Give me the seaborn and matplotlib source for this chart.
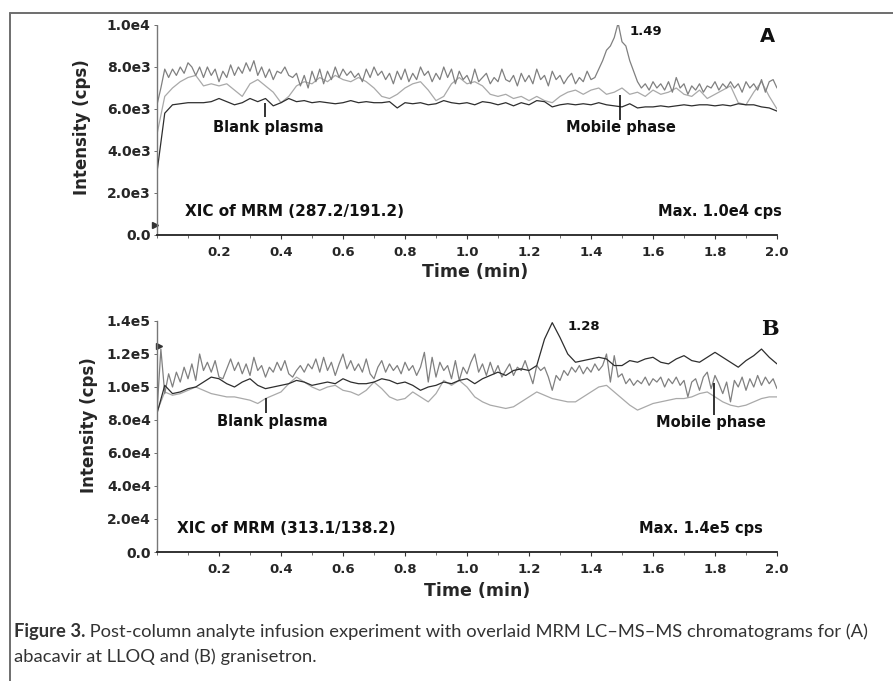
import numpy as np
import pandas as pd
import matplotlib
matplotlib.use('Agg')
import matplotlib.pyplot as plt
import seaborn as sns
from matplotlib.lines import Line2D
from matplotlib.ticker import FixedLocator, MultipleLocator

# ---- panel A (abacavir), intensity in units of 1e3 cps ----
a_noisy = [6.2, 7.0, 7.9, 7.5, 7.9, 7.6, 8.0, 7.7, 8.2, 8.0, 7.6, 8.0, 7.5, 8.0, 7.6, 7.9,
           7.3, 7.8, 7.5, 8.1, 7.6, 8.0, 7.7, 8.2, 7.8, 8.3, 7.6, 8.0, 7.5, 7.9, 7.4, 7.8,
           7.7, 8.0, 7.6, 7.5, 7.7, 7.1, 7.6, 7.0, 7.8, 7.3, 7.9, 7.2, 7.8, 7.4, 8.0, 7.5,
           7.9, 7.6, 7.8, 7.5, 7.7, 7.3, 7.9, 7.5, 8.0, 7.6, 7.8, 7.4, 7.7, 7.2, 7.8, 7.4,
           7.9, 7.3, 7.7, 7.4, 8.0, 7.6, 7.8, 7.3, 7.7, 7.4, 8.0, 7.5, 7.9, 7.2, 7.8, 7.4,
           7.6, 7.2, 7.9, 7.3, 7.5, 7.7, 7.2, 7.5, 7.3, 7.9, 7.4, 7.3, 7.6, 7.1, 7.7, 7.3,
           7.6, 7.2, 7.9, 7.4, 7.6, 7.1, 7.8, 7.4, 7.6, 7.2, 7.5, 7.7, 7.2, 7.5, 7.3, 7.8,
           7.4, 7.5, 7.9, 8.3, 8.8, 9.0, 9.4, 10.1, 9.2, 9.0, 8.3, 7.8, 7.3, 7.0, 7.2, 6.9,
           7.3, 7.0, 7.2, 6.9, 7.3, 6.8, 7.5, 7.0, 7.2, 6.7, 7.1, 6.9, 7.2, 6.8, 7.1, 7.0,
           7.3, 6.9, 7.2, 7.0, 7.3, 7.0, 7.2, 6.8, 7.3, 7.0, 7.2, 6.9, 7.4, 6.8, 7.3, 7.4,
           7.0]
a_light = [4.8, 6.6, 7.0, 7.3, 7.5, 7.6, 7.1, 7.2, 7.1, 7.2, 6.9, 6.6, 7.2, 7.4, 7.1, 6.8,
           6.3, 6.6, 7.1, 7.3, 7.2, 7.5, 7.3, 7.6, 7.4, 7.3, 7.5, 7.3, 7.0, 6.6, 6.5, 6.7,
           7.0, 7.2, 7.3, 6.9, 6.4, 6.6, 7.2, 7.5, 7.2, 7.3, 7.1, 6.7, 6.6, 6.7, 6.5, 6.6,
           6.4, 6.6, 6.4, 6.3, 6.6, 6.8, 6.9, 6.7, 6.9, 7.0, 6.7, 6.8, 7.0, 6.7, 6.8, 6.6,
           6.9, 6.7, 6.8, 7.0, 6.7, 6.6, 6.9, 6.5, 6.7, 6.9, 7.1, 6.3, 6.2, 6.8, 7.3, 6.6,
           6.0]
a_dark = [3.0, 5.8, 6.2, 6.25, 6.3, 6.3, 6.3, 6.35, 6.5, 6.35, 6.2, 6.3, 6.5, 6.35, 6.5, 6.15,
          6.3, 6.5, 6.35, 6.4, 6.3, 6.35, 6.3, 6.25, 6.3, 6.4, 6.3, 6.35, 6.3, 6.3, 6.35, 6.05,
          6.3, 6.25, 6.3, 6.2, 6.25, 6.4, 6.3, 6.25, 6.3, 6.2, 6.35, 6.3, 6.2, 6.3, 6.15, 6.3,
          6.2, 6.4, 6.35, 6.1, 6.2, 6.25, 6.2, 6.25, 6.2, 6.3, 6.2, 6.15, 6.1, 6.25, 6.05, 6.1,
          6.1, 6.15, 6.1, 6.15, 6.2, 6.15, 6.2, 6.2, 6.15, 6.2, 6.15, 6.25, 6.2, 6.2, 6.1, 6.05,
          5.9]

# ---- panel B (granisetron), intensity in units of 1e4 cps ----
b_noisy = [8.5, 12.3, 9.6, 10.8, 10.0, 10.9, 10.3, 11.2, 10.5, 11.4, 10.4, 12.0, 11.0, 11.5, 10.9, 11.6,
           10.6, 10.5, 11.1, 11.7, 11.0, 11.5, 10.8, 11.4, 10.7, 11.8, 11.0, 11.3, 10.6, 11.2, 10.9, 11.5,
           11.0, 11.6, 10.8, 10.6, 11.0, 11.3, 10.9, 11.4, 11.1, 11.7, 10.9, 11.8, 11.0, 11.5, 10.7, 11.4,
           12.0, 11.1, 11.6, 11.0, 11.4, 10.9, 11.7, 10.8, 10.5, 11.2, 11.6, 10.9, 11.4, 11.0, 11.3, 10.8,
           11.5, 11.0, 11.3, 10.7, 11.2, 12.1, 10.3, 11.8, 10.6, 11.5, 11.0, 11.3, 10.5, 11.6, 10.4, 11.2,
           10.8, 11.5, 12.0, 10.9, 11.4, 10.7, 11.5, 10.8, 11.3, 10.6, 11.0, 11.4, 10.7, 11.2, 11.0, 11.6,
           10.9, 10.2, 11.3, 11.0, 11.2, 10.6, 9.8, 10.7, 10.4, 11.0, 10.7, 11.2, 10.9, 11.3, 10.8, 11.2,
           10.9, 11.4, 11.0, 11.3, 12.0, 10.3, 11.9, 10.6, 10.8, 10.2, 10.5, 10.1, 10.4, 10.2, 10.6, 10.1,
           10.5, 10.3, 10.6, 10.0, 10.5, 10.2, 10.6, 10.1, 10.4, 9.4, 10.3, 10.5, 9.8, 10.6, 10.9, 9.9,
           10.7, 10.2, 9.6, 10.3, 9.1, 10.4, 10.0, 10.6, 9.8, 10.5, 10.0, 10.7, 10.1, 10.6, 10.2, 10.5,
           9.9]
b_dark = [8.4, 10.1, 9.6, 9.7, 9.9, 10.0, 10.3, 10.6, 10.5, 10.2, 10.0, 10.3, 10.5, 10.1, 9.9, 10.0,
          10.1, 10.2, 10.4, 10.3, 10.1, 10.2, 10.3, 10.2, 10.5, 10.3, 10.2, 10.2, 10.3, 10.5, 10.4, 10.2,
          10.3, 10.1, 9.8, 10.0, 10.1, 10.3, 10.2, 10.4, 10.5, 10.2, 10.5, 10.7, 10.9, 10.7, 11.0, 11.1,
          11.0, 11.3, 12.9, 13.9, 13.0, 12.0, 11.5, 11.6, 11.7, 11.8, 11.7, 11.3, 11.3, 11.6, 11.5, 11.7,
          11.8, 11.5, 11.4, 11.7, 11.9, 11.6, 11.5, 11.8, 12.1, 11.8, 11.5, 11.2, 11.6, 11.9, 12.3, 11.8,
          11.4]
b_light = [8.5, 9.7, 9.5, 9.6, 9.8, 10.0, 9.8, 9.6, 9.5, 9.4, 9.4, 9.3, 9.2, 9.0, 9.3, 9.5,
           9.7, 10.2, 10.6, 10.3, 10.0, 9.8, 10.0, 10.1, 9.8, 9.7, 9.5, 9.8, 10.3, 9.9, 9.4, 9.2,
           9.3, 9.7, 9.4, 9.1, 9.6, 10.4, 10.1, 10.4, 10.0, 9.4, 9.1, 8.9, 8.8, 8.7, 8.8, 9.1,
           9.4, 9.7, 9.5, 9.3, 9.2, 9.1, 9.1, 9.4, 9.7, 10.0, 10.1, 9.7, 9.3, 8.9, 8.6, 8.8,
           9.0, 9.1, 9.2, 9.3, 9.3, 9.4, 9.6, 9.7, 9.4, 9.1, 8.9, 8.8, 8.9, 9.1, 9.3, 9.4,
           9.4]

trace_colors = {'noisy': '#808080', 'light': '#a9a9a9', 'dark': '#2e2e2e'}

a_yticks = [0, 2000, 4000, 6000, 8000, 10000]
a_ylabels = ['0.0', '2.0e3', '4.0e3', '6.0e3', '8.0e3', '1.0e4']
b_yticks = [0, 20000, 40000, 60000, 80000, 100000, 120000, 140000]
b_ylabels = ['0.0', '2.0e4', '4.0e4', '6.0e4', '8.0e4', '1.0e5', '1.2e5', '1.4e5']
x_ticks = [0.2, 0.4, 0.6, 0.8, 1.0, 1.2, 1.4, 1.6, 1.8, 2.0]

caption_bold = 'Figure 3.'
caption_rest = (' Post-column analyte infusion experiment with overlaid MRM LC\u2013MS\u2013MS '
                'chromatograms for (A)')
caption_line2 = 'abacavir at LLOQ and (B) granisetron.'


def make_frame(series, scale):
    frames = []
    for name, vals in series.items():
        n = len(vals)
        frames.append(pd.DataFrame({'time': np.arange(n) * 2.0 / (n - 1),
                                    'intensity': np.array(vals) * scale,
                                    'trace': name}))
    return pd.concat(frames, ignore_index=True)


df_a = make_frame({'noisy': a_noisy, 'light': a_light, 'dark': a_dark}, 1e3)
df_b = make_frame({'noisy': b_noisy, 'light': b_light, 'dark': b_dark}, 1e4)

sns.set_style('ticks')
plt.rcParams['font.family'] = ['DejaVu Sans']

W, H = 893, 681
fig = plt.figure(figsize=(W / 100, H / 100), dpi=100)
ax_a = fig.add_axes([157 / W, 1 - 235 / H, 620 / W, 210 / H])
ax_b = fig.add_axes([157 / W, 1 - 552 / H, 620 / W, 231 / H])


def style_panel(ax, df, yticks, ylabels, ylab_pos, xlab_pos):
    sns.lineplot(data=df, x='time', y='intensity', hue='trace', hue_order=['light', 'noisy', 'dark'],
                 palette=trace_colors, estimator=None, legend=False, lw=0.9, ax=ax)
    ax.set_xlim(0, 2.0)
    ax.set_ylim(0, yticks[-1])
    ax.xaxis.set_major_locator(FixedLocator(x_ticks))
    ax.xaxis.set_minor_locator(MultipleLocator(0.1))
    ax.set_xticklabels([f'{t:.1f}' for t in x_ticks], fontsize=9.5, fontweight='bold')
    ax.yaxis.set_major_locator(FixedLocator(yticks))
    ax.set_yticklabels(ylabels, fontsize=10, fontweight='bold')
    ax.tick_params(axis='x', which='major', length=3, width=0.8, pad=5, color='#333333')
    ax.tick_params(axis='x', which='minor', length=2, width=0.6, color='#555555')
    ax.tick_params(axis='y', length=2.5, width=0.6, pad=2, color='#555555')
    for side in ['top', 'right']:
        ax.spines[side].set_visible(False)
    ax.spines['bottom'].set_linewidth(1.3)
    ax.spines['bottom'].set_color('#222222')
    ax.spines['left'].set_linestyle((0, (1, 1)))
    ax.spines['left'].set_color('#777777')
    ax.spines['left'].set_linewidth(1.0)
    ax.set_xlabel('Time (min)', fontsize=12.5, fontweight='bold')
    ax.set_ylabel('Intensity (cps)', fontsize=12, fontweight='bold')
    ax.yaxis.set_label_coords(*ylab_pos)
    ax.xaxis.set_label_coords(*xlab_pos)
    ax.set_facecolor('white')


style_panel(ax_a, df_a, a_yticks, a_ylabels, (-0.106, 0.514), (0.513, -0.135))
style_panel(ax_b, df_b, b_yticks, b_ylabels, (-0.095, 0.55), (0.516, -0.128))

bold = dict(fontweight='bold', color='#111111')

# panel A annotations
ax_a.text(1.526, 9670, '1.49', fontsize=9.5, ha='left', va='center', **bold)
ax_a.text(1.97, 9430, 'A', fontsize=14, ha='center', va='center', **bold)
ax_a.text(0.358, 5140, 'Blank plasma', fontsize=10.5, ha='center', va='center', **bold)
ax_a.vlines(0.348, 5620, 6290, color='#111111', lw=1.2)
ax_a.text(1.497, 5100, 'Mobile phase', fontsize=10.5, ha='center', va='center', **bold)
ax_a.vlines(1.494, 5480, 6670, color='#111111', lw=1.2)
ax_a.text(0.090, 1100, 'XIC of MRM (287.2/191.2)', fontsize=11, ha='left', va='center', **bold)
ax_a.text(2.016, 1100, 'Max. 1.0e4 cps', fontsize=10.5, ha='right', va='center', **bold)
ax_a.plot([-0.006], [480], marker='>', ms=4, color='#333333', clip_on=False)

# panel B annotations
ax_b.text(1.326, 136400, '1.28', fontsize=9.5, ha='left', va='center', **bold)
ax_b.text(1.977, 135000, 'B', fontsize=15, ha='center', va='center', family='DejaVu Serif', **bold)
ax_b.text(0.371, 78800, 'Blank plasma', fontsize=10.5, ha='center', va='center', **bold)
ax_b.vlines(0.352, 84200, 93300, color='#111111', lw=1.2)
ax_b.text(1.787, 78200, 'Mobile phase', fontsize=10.5, ha='center', va='center', **bold)
ax_b.vlines(1.797, 83000, 102400, color='#111111', lw=1.2)
ax_b.text(0.065, 14500, 'XIC of MRM (313.1/138.2)', fontsize=11, ha='left', va='center', **bold)
ax_b.text(1.955, 14500, 'Max. 1.4e5 cps', fontsize=10.5, ha='right', va='center', **bold)
ax_b.plot([0.006], [125000], marker='>', ms=4, color='#333333', clip_on=False)

# frame of the figure panel
fig.add_artist(Line2D([10 / W, 10 / W], [0, 1 - 13 / H], color='#6e6e6e', lw=1.4))
fig.add_artist(Line2D([10 / W, 1], [1 - 13 / H, 1 - 13 / H], color='#6e6e6e', lw=1.4))

# caption
cap_size = 13.25
t_bold = fig.text(14 / W, 1 - 632 / H, caption_bold, fontsize=cap_size, fontweight='bold',
                  family='Lato', color='#333333', va='center', ha='left')
fig.canvas.draw()
bb = t_bold.get_window_extent()
fig.text(bb.x1 / W, 1 - 632 / H, caption_rest, fontsize=cap_size, family='Lato',
         color='#333333', va='center', ha='left')
fig.text(14 / W, 1 - 657 / H, caption_line2, fontsize=cap_size, family='Lato',
         color='#333333', va='center', ha='left')

fig.savefig('out.png', dpi=100, facecolor='white')
